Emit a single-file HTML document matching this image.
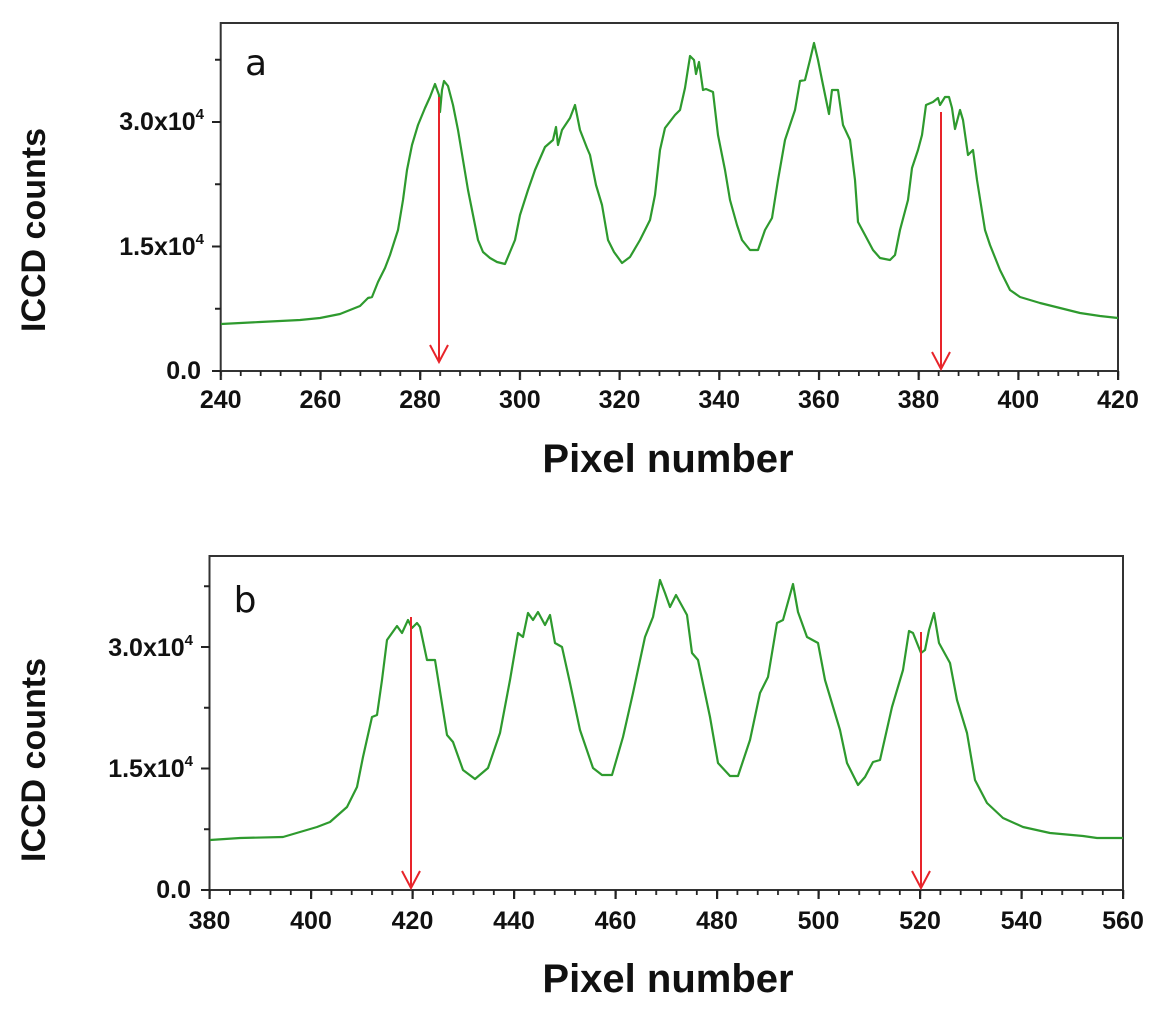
<!DOCTYPE html>
<html><head><meta charset="utf-8"><style>
html,body{margin:0;padding:0;background:#fff;}
svg{display:block;}
text{font-family:"Liberation Sans",Arial,sans-serif;fill:#111;}
.b{font-weight:bold;}
</style></head><body>
<svg width="1156" height="1018" viewBox="0 0 1156 1018" xmlns="http://www.w3.org/2000/svg">
<defs>
<pattern id="amin" patternUnits="userSpaceOnUse" x="219.9" y="0" width="19.94" height="20"><rect x="0" y="0" width="1.8" height="20" fill="#222"/></pattern>
<pattern id="amaj" patternUnits="userSpaceOnUse" x="219.7" y="0" width="99.7" height="20"><rect x="0" y="0" width="2.2" height="20" fill="#222"/></pattern>
<pattern id="bmin" patternUnits="userSpaceOnUse" x="208.7" y="0" width="20.3" height="20"><rect x="0" y="0" width="1.8" height="20" fill="#222"/></pattern>
<pattern id="bmaj" patternUnits="userSpaceOnUse" x="208.5" y="0" width="101.5" height="20"><rect x="0" y="0" width="2.2" height="20" fill="#222"/></pattern>
</defs>

<!-- Plot a -->
<rect x="220.7" y="23" width="897.3" height="348" fill="none" stroke="#333" stroke-width="2"/>
<rect x="219" y="371" width="901" height="5" fill="url(#amin)"/>
<rect x="219" y="371" width="901" height="9" fill="url(#amaj)"/>
<g stroke="#222" stroke-width="2">
<line x1="212" y1="371" x2="221" y2="371"/><line x1="212" y1="246.5" x2="221" y2="246.5"/><line x1="212" y1="122" x2="221" y2="122"/>
<line x1="215" y1="308.75" x2="221" y2="308.75"/><line x1="215" y1="184.25" x2="221" y2="184.25"/><line x1="215" y1="59.75" x2="221" y2="59.75"/>
</g>
<text x="256" y="75" font-size="36" text-anchor="middle" style="font-family:'DejaVu Sans','Liberation Sans',sans-serif">a</text>
<g class="b" font-size="25" text-anchor="end">
<text x="201" y="379">0.0</text>
<text x="204" y="255">1.5x10<tspan font-size="15" dy="-11">4</tspan></text>
<text x="204" y="130">3.0x10<tspan font-size="15" dy="-11">4</tspan></text>
</g>
<g class="b" font-size="25" text-anchor="middle">
<text x="220.7" y="408">240</text><text x="320.4" y="408">260</text><text x="420.1" y="408">280</text><text x="519.8" y="408">300</text><text x="619.5" y="408">320</text><text x="719.2" y="408">340</text><text x="818.9" y="408">360</text><text x="918.6" y="408">380</text><text x="1018.3" y="408">400</text><text x="1118" y="408">420</text>
</g>
<text class="b" x="668" y="472" font-size="40" text-anchor="middle">Pixel number</text>
<text class="b" transform="translate(45,230) rotate(-90)" font-size="34" text-anchor="middle">ICCD counts</text>
<polyline fill="none" stroke="#2e9a2e" stroke-width="2.2" stroke-linejoin="round" points="221,324 260,322 300,320 320,318 340,314 360,306 368,298 372,297 378,282 385,268 390,255 398,230 403,200 407,170 412,145 418,125 425,108 430,97 435,84 439,95 440,112 442,90 444,81 448,86 453,105 458,130 463,160 468,190 473,215 478,240 483,252 490,258 497,262 505,264 510,252 515,240 520,215 528,190 535,170 545,147 553,140 556,127 558,145 562,130 570,118 575,105 580,130 587,148 590,155 596,185 602,205 608,240 614,252 622,263 630,257 640,240 650,220 655,195 660,150 665,128 675,115 680,110 685,88 690,56 694,60 696,74 699,62 703,90 706,89 713,92 718,135 725,170 730,200 737,225 742,240 750,250 758,250 765,230 772,218 778,180 785,140 795,110 800,81 805,80 810,60 814,43 818,60 822,80 829,114 832,90 838,90 843,125 850,140 855,180 858,222 865,235 873,250 880,258 890,260 895,255 900,230 908,200 912,168 918,150 922,135 926,105 933,102 938,98 940,105 945,97 949,97 952,108 955,129 960,110 963,120 968,155 973,150 977,180 985,230 990,245 1000,270 1010,290 1020,297 1030,300 1040,303 1060,308 1080,313 1100,316 1118,318"/>
<g stroke="#e8242a" stroke-width="2" fill="none">
<line x1="439" y1="97" x2="439" y2="362"/><polyline points="430,345 439,362 448,345"/>
<line x1="941" y1="112" x2="941" y2="369"/><polyline points="932,352 941,369 950,352"/>
</g>

<!-- Plot b -->
<rect x="209.5" y="556" width="913.5" height="334" fill="none" stroke="#333" stroke-width="2"/>
<rect x="208" y="890" width="917" height="5" fill="url(#bmin)"/>
<rect x="208" y="890" width="917" height="9" fill="url(#bmaj)"/>
<g stroke="#222" stroke-width="2">
<line x1="201" y1="890" x2="210" y2="890"/><line x1="201" y1="768.5" x2="210" y2="768.5"/><line x1="201" y1="647" x2="210" y2="647"/>
<line x1="204" y1="829.25" x2="210" y2="829.25"/><line x1="204" y1="707.75" x2="210" y2="707.75"/><line x1="204" y1="586.25" x2="210" y2="586.25"/>
</g>
<text x="245" y="612" font-size="36" text-anchor="middle" style="font-family:'DejaVu Sans','Liberation Sans',sans-serif">b</text>
<g class="b" font-size="25" text-anchor="end">
<text x="191" y="898">0.0</text>
<text x="193" y="777">1.5x10<tspan font-size="15" dy="-11">4</tspan></text>
<text x="193" y="656">3.0x10<tspan font-size="15" dy="-11">4</tspan></text>
</g>
<g class="b" font-size="25" text-anchor="middle">
<text x="209.5" y="929">380</text><text x="311" y="929">400</text><text x="412.5" y="929">420</text><text x="514" y="929">440</text><text x="615.5" y="929">460</text><text x="717" y="929">480</text><text x="818.5" y="929">500</text><text x="920" y="929">520</text><text x="1021.5" y="929">540</text><text x="1123" y="929">560</text>
</g>
<text class="b" x="668" y="992" font-size="40" text-anchor="middle">Pixel number</text>
<text class="b" transform="translate(45,760) rotate(-90)" font-size="34" text-anchor="middle">ICCD counts</text>
<polyline fill="none" stroke="#2e9a2e" stroke-width="2.2" stroke-linejoin="round" points="210,840 240,838 283,837 317,827 330,822 347,807 357,787 363,757 372,717 377,715 382,680 387,640 397,626 402,633 408,620 412,628 417,623 420,627 427,660 435,660 447,735 453,742 463,770 475,779 488,768 500,733 510,680 518,633 523,637 528,613 533,620 538,612 545,625 550,615 555,643 562,647 570,683 580,730 593,768 602,775 612,775 623,737 633,693 645,637 653,617 660,580 665,593 670,607 676,595 687,615 692,653 698,660 710,717 718,763 730,776 738,776 750,740 760,693 768,677 777,623 783,620 793,584 798,612 807,637 818,643 825,680 840,730 847,763 858,785 865,777 873,762 880,760 892,707 903,670 909,631 913,633 921,653 925,650 929,630 934,613 939,643 950,663 957,700 967,733 975,780 987,803 1003,818 1023,827 1050,833 1083,836 1097,838 1123,838"/>
<g stroke="#e8242a" stroke-width="2" fill="none">
<line x1="411" y1="617" x2="411" y2="888"/><polyline points="402,871 411,888 420,871"/>
<line x1="921" y1="632" x2="921" y2="888"/><polyline points="912,871 921,888 930,871"/>
</g>
</svg>
</body></html>
